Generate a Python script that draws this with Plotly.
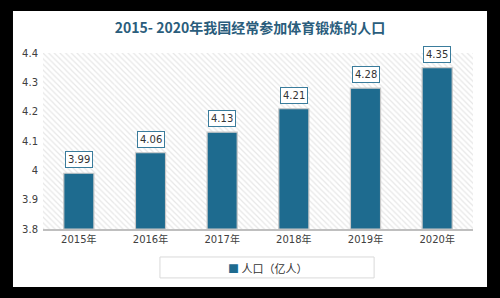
import plotly.graph_objects as go

categories = ["2015年", "2016年", "2017年", "2018年", "2019年", "2020年"]
values = [3.99, 4.06, 4.13, 4.21, 4.28, 4.35]
series_name = "人口（亿人）"
title_text = "2015- 2020年我国经常参加体育锻炼的人口"
y_ticks = [3.8, 3.9, 4.0, 4.1, 4.2, 4.3, 4.4]
y_tick_labels = ["3.8", "3.9", "4", "4.1", "4.2", "4.3", "4.4"]
y_min, y_max = 3.8, 4.4

BAR = "#1e6b8f"
FONT = "DejaVu Sans, Noto Sans CJK SC"

fig = go.Figure()

# hatched plot-area background
fig.add_trace(go.Bar(
    x=categories, y=[y_max - y_min] * len(categories), base=y_min, width=1,
    marker=dict(color="white", line=dict(width=0),
                pattern=dict(shape="\\", fgcolor="#cfcfcf", bgcolor="white", size=4, solidity=0.3)),
    showlegend=False, hoverinfo="skip",
))

fig.add_trace(go.Bar(
    x=categories, y=[v - y_min for v in values], base=y_min, width=0.42,
    name=series_name, showlegend=False,
    marker=dict(color=BAR, line=dict(color="#c9c9c9", width=1.2)),
))

for c, v in zip(categories, values):
    fig.add_annotation(
        x=c, y=v, text=f"{v:.2f}", showarrow=False, yanchor="bottom", yshift=5,
        font=dict(family=FONT, size=10, color="#333333"),
        bgcolor="white", bordercolor="#3a7c9c", borderwidth=1, borderpad=2,
    )

# legend (box + square symbol + label)
fig.add_shape(type="rect", xref="paper", yref="paper", x0=0.272, x1=0.770, y0=-0.278, y1=-0.159,
              fillcolor="white", line=dict(color="#d9d9d9", width=1))
fig.add_annotation(
    xref="paper", yref="paper", x=0.521, y=-0.219, xanchor="center", yanchor="middle", showarrow=False,
    text=f"<span style='color:{BAR}'>■</span> {series_name}",
    font=dict(family="Noto Sans CJK SC", size=11, color="#333333"),
)

# white panel
fig.add_shape(type="rect", xref="paper", yref="paper", x0=-0.0698, x1=1.0326, y0=-0.3295, y1=1.2386,
              fillcolor="white", line=dict(width=0), layer="below")

fig.update_layout(
    width=500, height=298,
    margin=dict(l=43, r=27, t=53, b=69),
    paper_bgcolor="black", plot_bgcolor="white",
    barmode="overlay",
    title=dict(text=f"<b>{title_text}</b>", x=0.5, xanchor="center", y=1 - 28 / 298, yanchor="middle",
               font=dict(family="Noto Sans CJK SC", size=14, color="#2a5d7c")),
    xaxis=dict(showgrid=False, showline=True, linecolor="#bfbfbf", linewidth=1.5, ticks="",
               tickfont=dict(family=FONT, size=10, color="#404040"), fixedrange=True),
    yaxis=dict(range=[y_min, y_max], tickvals=y_ticks, ticktext=y_tick_labels, showgrid=False,
               zeroline=False, showline=False, ticks="", ticklabelstandoff=4,
               tickfont=dict(family=FONT, size=10, color="#404040")),
    showlegend=False,
)

fig.write_html("out.html")
